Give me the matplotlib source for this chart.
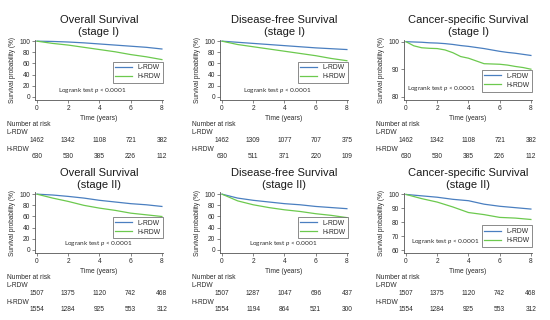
import numpy as np
import matplotlib
matplotlib.use("Agg")
import matplotlib.pyplot as plt
import matplotlib.transforms as mtransforms

plt.rcParams['font.family'] = ['Liberation Sans', 'DejaVu Sans']
plt.rcParams['mathtext.fontset'] = 'custom'
plt.rcParams['mathtext.it'] = 'Lato:italic'
plt.rcParams['mathtext.rm'] = 'Lato'

# ---------------------------------------------------------------------------
# Data read from the reference (survival %, sampled by year)
# ---------------------------------------------------------------------------
years = [0, 1, 2, 3, 4, 5, 6, 7, 8]
years_fine = [0, 0.5, 1, 1.5, 2, 2.5, 3, 3.5, 4, 4.5, 5, 5.5, 6, 6.5, 7, 7.5, 8]

titles = [
    "Overall Survival\n(stage I)",
    "Disease-free Survival\n(stage I)",
    "Cancer-specific Survival\n(stage I)",
    "Overall Survival\n(stage II)",
    "Disease-free Survival\n(stage II)",
    "Cancer-specific Survival\n(stage II)",
]

os1_l = [100, 99.5, 98.5, 97, 95, 93, 91, 89, 86]
os1_h = [100, 96, 93, 89, 85, 81, 76, 72, 67]
dfs1_l = [100, 98, 96, 94, 92, 90, 88, 86.5, 85]
dfs1_h = [100, 94, 90, 86, 82, 78, 74, 69, 65]
css1_l = [100, 99.9, 99.8, 99.6, 99.5, 99.3, 99.0, 98.6, 98.3, 97.9, 97.5, 97.0, 96.5, 96.1, 95.8, 95.4, 95.0]
css1_h = [100, 98.5, 97.8, 97.6, 97.5, 97.0, 96.0, 94.6, 94.0, 93.0, 92.0, 91.9, 91.8, 91.5, 91.0, 90.6, 90.0]
os2_l = [100, 98.5, 96, 93, 89, 86, 83, 81, 78]
os2_h = [100, 93, 87, 80, 75, 71, 66, 63, 60]
dfs2_l = [100, 93, 89, 86, 83, 81, 78, 76, 74]
dfs2_h = [100, 88, 81, 76, 72, 69, 65, 62, 58]
css2_l = [100, 99, 98, 96.5, 95.5, 93, 91.5, 90.5, 89.5]
css2_h = [100, 97, 94.5, 91, 87, 85.5, 83.5, 83, 82]

curves = [
    (years, os1_l, os1_h),
    (years, dfs1_l, dfs1_h),
    (years_fine, css1_l, css1_h),
    (years, os2_l, os2_h),
    (years, dfs2_l, dfs2_h),
    (years, css2_l, css2_h),
]

risk_times = [0, 2, 4, 6, 8]
risk_l = [
    [1462, 1342, 1108, 721, 382],
    [1462, 1309, 1077, 707, 375],
    [1462, 1342, 1108, 721, 382],
    [1507, 1375, 1120, 742, 468],
    [1507, 1287, 1047, 696, 437],
    [1507, 1375, 1120, 742, 468],
]
risk_h = [
    [630, 530, 385, 226, 112],
    [630, 511, 371, 220, 109],
    [630, 530, 385, 226, 112],
    [1554, 1284, 925, 553, 312],
    [1554, 1194, 864, 521, 300],
    [1554, 1284, 925, 553, 312],
]

yticks = [
    [0, 20, 40, 60, 80, 100],
    [0, 20, 40, 60, 80, 100],
    [80, 90, 100],
    [0, 20, 40, 60, 80, 100],
    [0, 20, 40, 60, 80, 100],
    [60, 70, 80, 90, 100],
]
ylims = [(-5.4, 103), (-5.4, 103), (78.8, 100.8), (-5.4, 103), (-5.4, 103), (57.9, 101.4)]

# text / legend placement in axes fraction
logrank_pos = [(0.45, 0.16), (0.45, 0.16), (0.29, 0.19), (0.49, 0.16), (0.49, 0.16), (0.32, 0.19)]
legend_pos = [(1.0, 0.28), (1.0, 0.28), (1.0, 0.14), (1.0, 0.24), (1.0, 0.24), (1.0, 0.10)]

BLUE = '#4a7fc0'
GREEN = '#6cc94e'
TXT = '#2a2a2a'
FS = 4.8

fig = plt.figure(figsize=(5.5, 3.2), dpi=100)

lefts = [35 / 550, 220 / 550, 404 / 550]
bottoms = [1 - 100 / 320, 1 - 253 / 320]
w = 128 / 550
h = 60.5 / 320

for i in range(6):
    row, col = divmod(i, 3)
    ax = fig.add_axes([lefts[col], bottoms[row], w, h])
    t, yl, yh = curves[i]
    ax.plot(t, yl, color=BLUE, lw=0.9, label='L-RDW')
    ax.plot(t, yh, color=GREEN, lw=0.9, label='H-RDW')

    ax.set_xlim(-0.13, 8.07)
    ax.set_ylim(*ylims[i])
    ax.set_xticks(risk_times)
    ax.set_yticks(yticks[i])
    for s in ['top', 'right']:
        ax.spines[s].set_visible(False)
    for s in ['left', 'bottom']:
        ax.spines[s].set_color('#555555')
        ax.spines[s].set_linewidth(0.6)
    ax.tick_params(labelsize=FS, colors='#555555', labelcolor=TXT, length=2, width=0.5, pad=1.5)

    ax.set_title(titles[i], fontsize=8.0, color='#1a1a1a', pad=3.5, linespacing=1.15)
    ax.set_xlabel("Time (years)", fontsize=FS, color=TXT, labelpad=2.5)
    ax.set_ylabel("Survival probability (%)", fontsize=4.7, color=TXT, labelpad=2)

    lx, ly = logrank_pos[i]
    ax.text(lx, ly, r"Logrank test $\it{p}$ < 0.0001", transform=ax.transAxes,
            fontsize=4.6, family='Lato', color=TXT, ha='center', va='center')

    leg = ax.legend(loc='lower right', bbox_to_anchor=legend_pos[i], fontsize=4.9,
                    frameon=True, fancybox=False, handlelength=2.5, borderpad=0.4,
                    labelspacing=0.3, handletextpad=0.7, borderaxespad=0)
    leg.get_frame().set_edgecolor('#555555')
    leg.get_frame().set_linewidth(0.6)
    for txt in leg.get_texts():
        txt.set_color(TXT)

    # number at risk table
    trans = mtransforms.blended_transform_factory(ax.transData, ax.transAxes)
    ax.text(-0.22, -0.40, "Number at risk", transform=ax.transAxes, fontsize=FS,
            color=TXT, ha='left', va='center')
    ax.text(-0.22, -0.54, "L-RDW", transform=ax.transAxes, fontsize=FS,
            color=TXT, ha='left', va='center')
    ax.text(-0.22, -0.81, "H-RDW", transform=ax.transAxes, fontsize=FS,
            color=TXT, ha='left', va='center')
    for tt, nl, nh in zip(risk_times, risk_l[i], risk_h[i]):
        ax.text(tt, -0.67, str(nl), transform=trans, fontsize=FS, color=TXT,
                ha='center', va='center')
        ax.text(tt, -0.93, str(nh), transform=trans, fontsize=FS, color=TXT,
                ha='center', va='center')

fig.savefig("out.png", dpi=100)
